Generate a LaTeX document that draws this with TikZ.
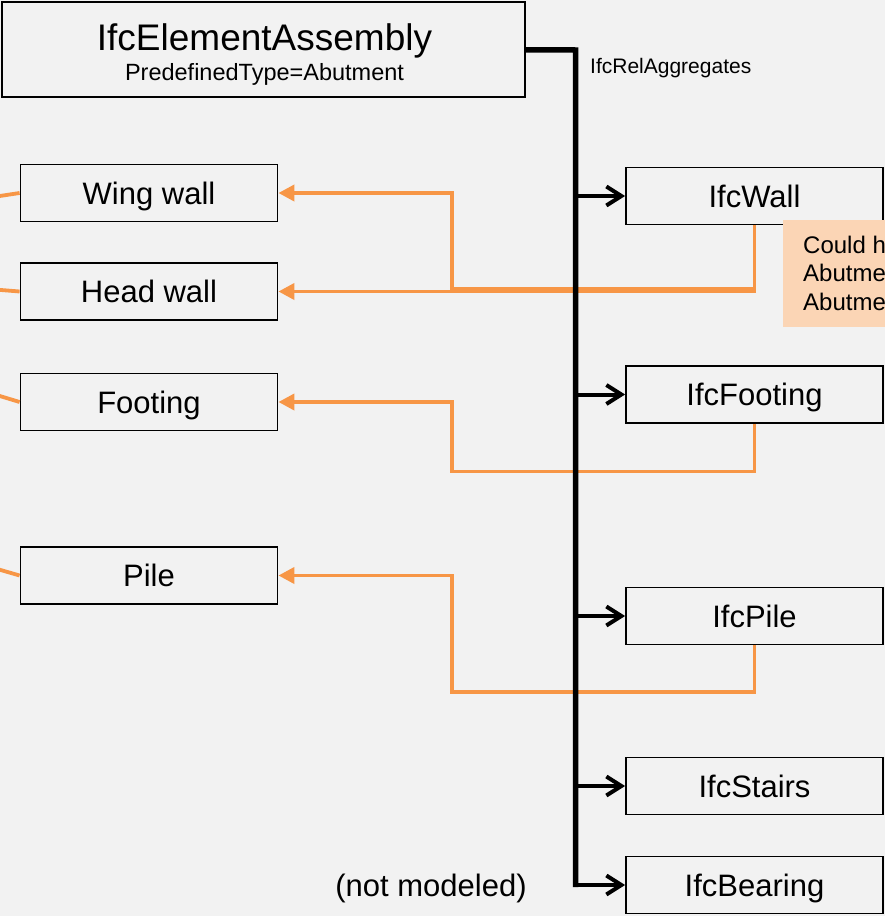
\documentclass[tikz,border=0pt]{standalone}
\usepackage{fontspec}
\setmainfont{Liberation Sans}
\usetikzlibrary{arrows.meta}
\definecolor{bg}{HTML}{F2F2F2}
\definecolor{org}{HTML}{F79646}
\definecolor{peach}{HTML}{FBD5B5}
\begin{document}
\begin{tikzpicture}[x=1pt,y=-1pt,
  box/.style={draw=black, line width=1.8pt, fill=bg, minimum width=257pt, minimum height=57pt, inner sep=0pt, font=\fontsize{31}{31}\selectfont, text height=22.2pt, text depth=0pt},
  agg/.style={draw=black, line width=4pt, -{Straight Barb[length=15pt,width=19pt]}},
  link/.style={draw=org, line width=3.8pt, -{Triangle[length=16pt,width=16pt]}},
  stub/.style={draw=org, line width=3.8pt},
  notetext/.style={anchor=base west, inner sep=0pt, font=\fontsize{24}{24}\selectfont},
]
\useasboundingbox (0,0) rectangle (885,916);
\clip (0,0) rectangle (885,916);
\fill[bg] (0,0) rectangle (885,916);

% top box
\node[draw=black, line width=1.8pt, fill=bg, minimum width=523pt, minimum height=95pt, inner sep=0pt] (ea) at (263.5,49.75) {};
\node[anchor=base, font=\fontsize{37}{37}\selectfont] (eat) at (264.5,50) {IfcElementAssembly};
\node[anchor=base, font=\fontsize{23.5}{23.5}\selectfont] (eap) at (264.5,80) {PredefinedType=Abutment};

% right boxes
\node[box] (wall) at (754.5,196) {IfcWall};
\node[box] (ifoot) at (754.5,394.5) {IfcFooting};
\node[box] (ipile) at (754.5,616) {IfcPile};
\node[box] (stairs) at (754.5,786) {IfcStairs};
\node[box] (bearing) at (754.5,885) {IfcBearing};

% left boxes
\node[box] (wing) at (149,193) {Wing wall};
\node[box] (head) at (149,291.5) {Head wall};
\node[box] (foot) at (149,402) {Footing};
\node[box] (pile) at (149,575.5) {Pile};

% note
\node[fill=peach, anchor=north west, minimum width=130pt, minimum height=107pt, inner sep=0pt] (note) at (783,220) {};
\node[notetext] (note1) at (803,253) {Could h};
\node[notetext] (note2) at (803,281.5) {Abutme};
\node[notetext] (note3) at (803,310) {Abutme};

% labels
\node[anchor=base west, inner sep=0pt, font=\fontsize{21}{21}\selectfont] (rel) at (590,73) {IfcRelAggregates};
\node[anchor=base, inner sep=0pt, font=\fontsize{31}{31}\selectfont] (nm) at (431,896) {(not modeled)};

% stubs off the left edge
\coordinate (s1) at (-20,199);
\coordinate (s2) at (-20,288.3);
\coordinate (s3) at (-20,390);
\coordinate (s4) at (-20,564);
\draw[stub] (wing.west) -- (s1);
\draw[stub] (head.west) -- (s2);
\draw[stub] (foot.west) -- (s3);
\draw[stub] (pile.west) -- (s4);

% orange links
\draw[link] (wall.south) |- (452,288.5) |- (wing.east);
\draw[link] (wall.south) |- (head.east);
\draw[link] (ifoot.south) |- (452,471.5) |- (foot.east);
\draw[link] (ipile.south) |- (452,692) |- (pile.east);

% aggregation trunk
\coordinate (j) at (575.5,50);
\coordinate (tb) at (575.5,887);
\draw[line width=5.5pt] (ea.east) -- (j) -- (tb);
\draw[agg] (j |- wall) -- (wall.west);
\draw[agg] (j |- ifoot) -- (ifoot.west);
\draw[agg] (j |- ipile) -- (ipile.west);
\draw[agg] (j |- stairs) -- (stairs.west);
\draw[agg] (j |- bearing) -- (bearing.west);
\end{tikzpicture}
\end{document}
